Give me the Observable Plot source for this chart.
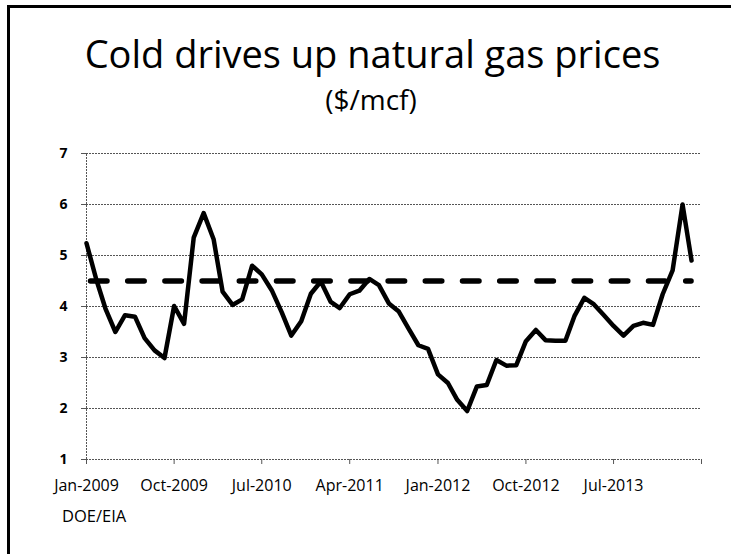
<!DOCTYPE html>
<html>
<head>
<meta charset="utf-8">
<script src="https://cdn.jsdelivr.net/npm/d3@7"></script>
<script src="https://cdn.jsdelivr.net/npm/@observablehq/plot@0.6"></script>
<style>
  html, body { margin: 0; padding: 0; background: #fff; }
  #wrap { position: relative; width: 731px; height: 554px; overflow: hidden; font-family: "Open Sans", sans-serif; color: #000; }
  #frame { position: absolute; left: 7px; top: 5px; width: 760px; height: 600px; border-top: 3px solid #000; border-left: 3px solid #000; }
  #title { position: absolute; left: 0; width: 745px; top: 34px; text-align: center; font-size: 38px; line-height: 38px; white-space: nowrap; }
  #subtitle { position: absolute; left: 0; width: 742px; top: 85px; text-align: center; font-size: 28px; line-height: 28px; white-space: nowrap; }
  #source { position: absolute; left: 62px; top: 507px; font-size: 16.5px; line-height: 17px; white-space: nowrap; }
  #chart { position: absolute; left: 0; top: 0; }
</style>
</head>
<body>
<div id="wrap">
  <div id="frame"></div>
  <div id="chart"></div>
  <div id="title">Cold drives up natural gas prices</div>
  <div id="subtitle">($/mcf)</div>
  <div id="source">DOE/EIA</div>
</div>
<script>
// Monthly natural gas price ($/mcf)
const prices2009 = [5.24, 4.52, 3.96, 3.50, 3.83, 3.80, 3.38, 3.14, 2.99, 4.01, 3.66, 5.35];
const prices2010 = [5.83, 5.32, 4.29, 4.03, 4.14, 4.80, 4.63, 4.32, 3.89, 3.43, 3.71, 4.25];
const prices2011 = [4.49, 4.09, 3.97, 4.24, 4.31, 4.54, 4.42, 4.06, 3.90, 3.57, 3.24, 3.17];
const prices2012 = [2.67, 2.50, 2.17, 1.95, 2.43, 2.46, 2.95, 2.84, 2.85, 3.32, 3.54, 3.34];
const prices2013 = [3.33, 3.33, 3.81, 4.17, 4.04, 3.83, 3.62, 3.43, 3.62, 3.68, 3.64, 4.24];
const prices2014 = [4.71, 6.00, 4.90];

const firstMonth = "2009-01-01";
const axisEnd = "2014-04-01";
const referenceLevel = 4.5;

const tickDates = ["2009-01-01", "2009-10-01", "2010-07-01", "2011-04-01", "2012-01-01", "2012-10-01", "2013-07-01", "2014-04-01"];
const tickLabels = ["Jan-2009", "Oct-2009", "Jul-2010", "Apr-2011", "Jan-2012", "Oct-2012", "Jul-2013", ""];
const yTicks = [1, 2, 3, 4, 5, 6, 7];
const gridValues = [2, 3, 4, 5, 6, 7];

const allPrices = [...prices2009, ...prices2010, ...prices2011, ...prices2012, ...prices2013, ...prices2014];
const months = d3.utcMonth.range(new Date(firstMonth), new Date(axisEnd)).slice(0, allPrices.length);
const data = months.map((d, i) => ({date: d, price: allPrices[i]}));
const ticks = tickDates.map(d => new Date(d));
const labelOf = new Map(ticks.map((d, i) => [+d, tickLabels[i]]));

const dotted = {stroke: "#555", strokeWidth: 1, strokeDasharray: "2,1"};

const chart = Plot.plot({
  width: 731,
  height: 554,
  marginLeft: 86,
  marginRight: 30,
  marginTop: 153,
  marginBottom: 95,
  style: {fontFamily: "Open Sans, sans-serif", background: "transparent", color: "#000"},
  x: {type: "utc", domain: [new Date(firstMonth), new Date(axisEnd)]},
  y: {domain: [1, 7]},
  marks: [
    Plot.ruleY(gridValues, dotted),
    Plot.ruleY([1], dotted),
    Plot.ruleX([new Date(firstMonth)], {...dotted, y1: 1, y2: 7}),
    Plot.axisY({ticks: yTicks, tickSize: 5, tickPadding: 14, fontSize: 14, fontWeight: "bold", stroke: "#555", tickFormat: d => String(d), label: null}),
    Plot.axisX({ticks: ticks, tickSize: 5, tickPadding: 15, fontSize: 16, stroke: "#555", tickFormat: d => labelOf.get(+d) ?? "", label: null}),
    Plot.ruleY([referenceLevel], {
      x1: new Date(firstMonth), x2: months[months.length - 1],
      stroke: "#000", strokeWidth: 5.5, strokeDasharray: "16.5,20.7", strokeDashoffset: -4.5, strokeLinecap: "round"
    }),
    Plot.line(data, {x: "date", y: "price", stroke: "#000", strokeWidth: 4.5, strokeLinejoin: "round", strokeLinecap: "round"})
  ]
});
document.getElementById("chart").appendChild(chart);
</script>
</body>
</html>
